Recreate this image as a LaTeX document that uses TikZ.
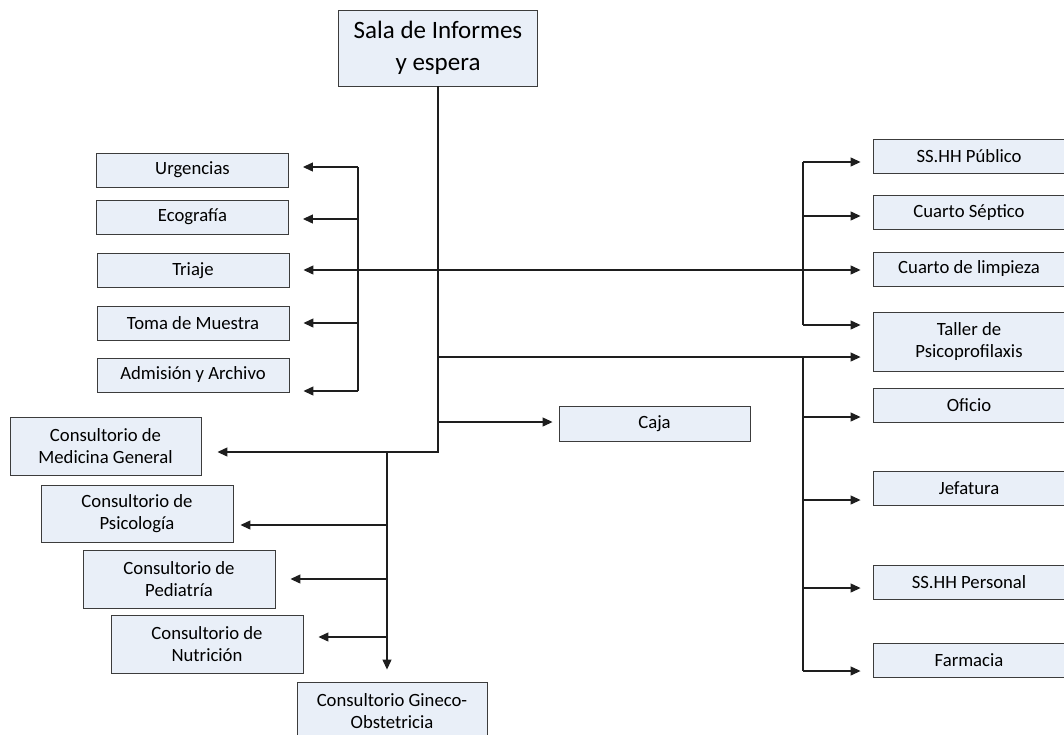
\documentclass[tikz,border=0pt]{standalone}
\usepackage{fontspec}
\setmainfont{Carlito}
\usetikzlibrary{arrows.meta,positioning}
\definecolor{roomFill}{RGB}{233,239,248}
\definecolor{roomLine}{RGB}{60,60,60}
\definecolor{flowLine}{RGB}{30,30,30}

\begin{document}
\begin{tikzpicture}[x=1pt,y=-1pt,
    room/.style={draw=roomLine, fill=roomFill, line width=0.9pt, align=center,
      inner sep=0pt, minimum width=192pt, minimum height=34pt,
      font=\fontsize{18.7}{22}\selectfont},
    tall/.style={room, minimum height=58pt},
    flow/.style={draw=flowLine, line width=1.2pt},
    feed/.style={flow, -{Triangle[length=10pt,width=9pt]}}]
  \useasboundingbox (0,0) rectangle (1064,734);

  % entrada
  \node[room, minimum width=199pt, minimum height=76pt,
        font=\fontsize{25}{32}\selectfont] (sala) at (438,48) {Sala de Informes\\y espera};

  % columna izquierda
  \node[room] (urgencias) at (192.5,170) {Urgencias};
  \node[room] (ecografia) at (192.5,217) {Ecografía};
  \node[room] (triaje) at (193,270.5) {Triaje};
  \node[room] (toma) at (193,323.5) {Toma de Muestra};
  \node[room] (admision) at (193,375) {Admisión y Archivo};

  % consultorios
  \node[tall, minimum width=191pt] (medicina) at (105.5,446) {Consultorio de\\Medicina General};
  \node[tall, minimum height=57pt] (psicologia) at (137,513.5) {Consultorio de\\Psicología};
  \node[tall] (pediatria) at (179,579) {Consultorio de\\Pediatría};
  \node[tall] (nutricion) at (207,644) {Consultorio de\\Nutrición};
  \node[tall, minimum width=190pt] (gineco) at (392,711) {Consultorio Gineco-\\Obstetricia};

  \node[room, minimum width=191pt, minimum height=35pt] (caja) at (654.5,423.5) {Caja};

  % columna derecha
  \node[room] (publico) at (969,156.5) {SS.HH Público};
  \node[room] (septico) at (969,212.5) {Cuarto Séptico};
  \node[room] (limpieza) at (969,269) {Cuarto de limpieza};
  \node[tall, minimum height=59pt] (taller) at (969,341.5) {Taller de\\Psicoprofilaxis};
  \node[room] (oficio) at (969,405) {Oficio};
  \node[room] (jefatura) at (969,488.5) {Jefatura};
  \node[room] (personal) at (969,582) {SS.HH Personal};
  \node[room] (farmacia) at (969,660) {Farmacia};

  % tronco principal
  \coordinate (trunkBot) at (438,452);
  \coordinate (tTaller) at (438,357);
  \coordinate (tCaja) at (438,422);
  \draw[feed] (sala.south) -- (trunkBot) -- ([xshift=16pt]medicina.east |- trunkBot);
  \draw[feed] (tTaller) -- ([xshift=-12pt]taller.west |- tTaller);
  \draw[feed] (tCaja) -- ([xshift=-6pt]caja.west |- tCaja);

  % ramal izquierdo
  \draw[flow] (358,167) -- (358,391);
  \foreach \n/\y in {urgencias/167, ecografia/219, triaje/270, toma/323, admision/391} {
    \coordinate (b-\n) at (358,\y);
    \draw[feed] (b-\n) -- ([xshift=14pt]\n.east |- b-\n);
  }
  \draw[feed] (b-triaje) -- ([xshift=-12pt]limpieza.west |- b-triaje);

  % ramal derecho superior
  \draw[flow] (803,162) -- (803,325);
  \foreach \n/\y in {publico/162, septico/216, taller/325} {
    \coordinate (r-\n) at (803,\y);
    \draw[feed] (r-\n) -- ([xshift=-12pt]\n.west |- r-\n);
  }

  % ramal derecho inferior
  \draw[flow] (803,357) -- (803,671);
  \foreach \n/\y in {oficio/417, jefatura/500, personal/588, farmacia/671} {
    \coordinate (s-\n) at (803,\y);
    \draw[feed] (s-\n) -- ([xshift=-12pt]\n.west |- s-\n);
  }

  % consultorios
  \coordinate (gTop) at (387,452);
  \draw[feed] (gTop) -- ([yshift=12pt]gineco.north -| gTop);
  \foreach \n/\y/\g in {psicologia/525/7, pediatria/579/15, nutricion/637/15} {
    \coordinate (c-\n) at (387,\y);
    \draw[feed] (c-\n) -- ([xshift=\g pt]\n.east |- c-\n);
  }
\end{tikzpicture}
\end{document}
